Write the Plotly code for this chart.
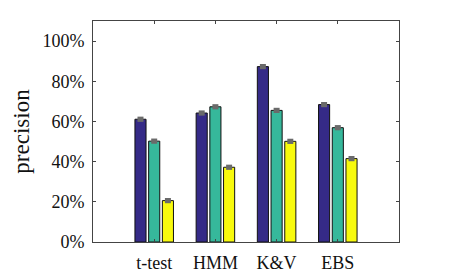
import plotly.graph_objects as go

categories = ["t-test", "HMM", "K&V", "EBS"]
series_a = [0.611, 0.642, 0.873, 0.684]
series_b = [0.502, 0.673, 0.655, 0.569]
series_c = [0.206, 0.372, 0.501, 0.415]
errors = 0.013
colors = ["#352a87", "#36b89b", "#f8fa0d"]
y_ticks = [0, 0.2, 0.4, 0.6, 0.8, 1.0]
y_tick_labels = ["0%", "20%", "40%", "60%", "80%", "100%"]

xpos = list(range(1, len(categories) + 1))
FONT = "Liberation Serif"

fig = go.Figure()
for vals, col in zip([series_a, series_b, series_c], colors):
    fig.add_trace(go.Bar(
        x=xpos, y=vals,
        marker=dict(color=col, line=dict(color="#111111", width=1)),
        error_y=dict(type="constant", value=errors, color="#6a6a6a",
                     thickness=6, width=0),
        showlegend=False,
    ))

axis_common = dict(showline=True, linecolor="#444444", linewidth=1,
                   mirror="ticks", ticks="inside", ticklen=3,
                   tickcolor="#444444", showgrid=False, zeroline=False,
                   tickfont=dict(family=FONT, size=18, color="#111111"))

fig.update_layout(
    width=471, height=277,
    margin=dict(l=78, r=80, t=13, b=39),
    paper_bgcolor="white", plot_bgcolor="white",
    barmode="group", bargap=0.328, bargroupgap=0.19,
    xaxis=dict(range=[0, 5], tickvals=xpos, ticktext=categories,
               ticklabelstandoff=4, **axis_common),
    yaxis=dict(range=[0, 1.1], tickvals=y_ticks, ticktext=y_tick_labels,
               ticklabelstandoff=4,
               title=dict(text="precision", font=dict(family=FONT, size=23, color="#111111"),
                          standoff=6),
               **axis_common),
)

fig.write_html("out.html")
